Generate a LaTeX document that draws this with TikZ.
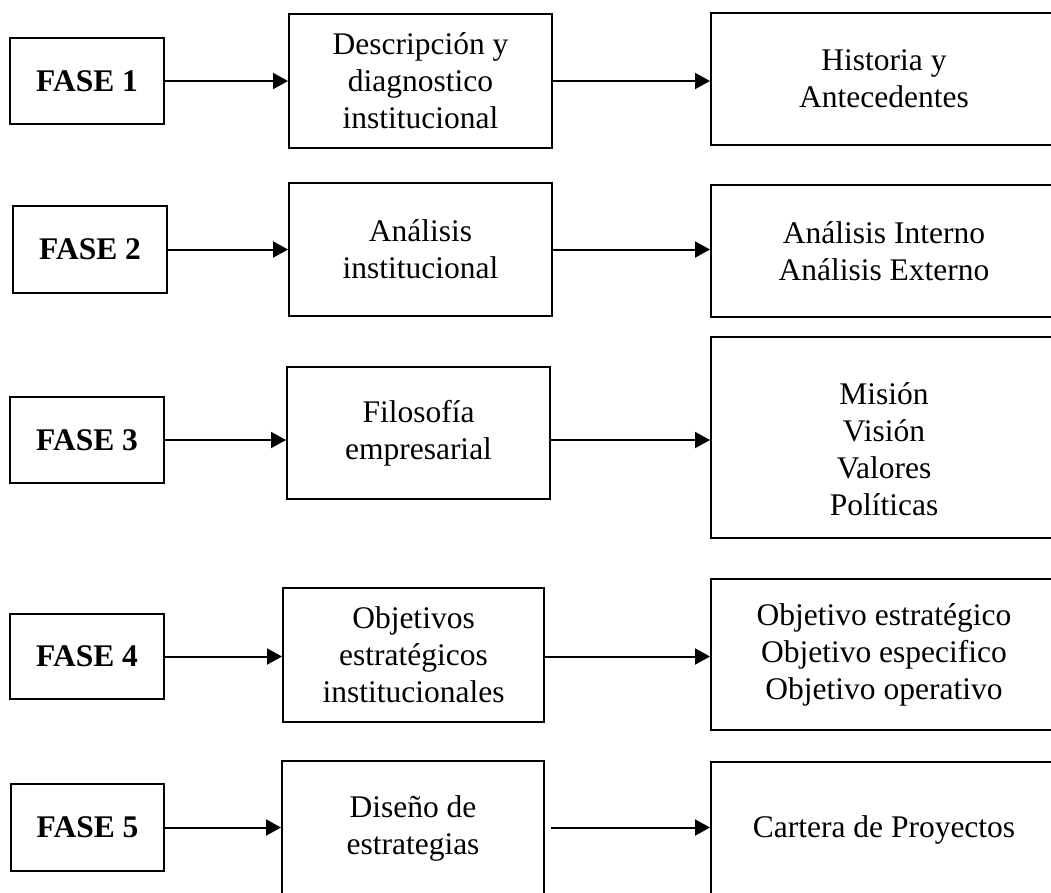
\documentclass[tikz,border=0pt]{standalone}
\usepackage{fontspec}
\setmainfont{Liberation Serif}
\usetikzlibrary{arrows.meta}
\tikzset{
  bx/.style={draw, line width=2pt, align=center, inner sep=0pt,
    font=\fontsize{31.5}{37}\selectfont},
  fase/.style={bx, font=\fontsize{31.5}{37}\selectfont\bfseries},
  arr/.style={line width=2pt, -{Triangle[length=15pt,width=16pt]}}
}
\begin{document}
\begin{tikzpicture}[x=1pt,y=1pt]
\useasboundingbox (0,0) rectangle (1051,-892);
\clip (0,0) rectangle (1051,-892);
\fill[white] (0,0) rectangle (1051,-892);
% Row 1
\node[fase, minimum width=154pt, minimum height=86pt] (F1) at (87,-81) {FASE 1};
\node[bx, minimum width=263pt, minimum height=134pt] (M1) at (420.5,-81) {Descripción y\\diagnostico\\institucional};
\node[bx, minimum width=346pt, minimum height=132pt] (R1) at (884,-79) {Historia y\\Antecedentes};
% Row 2
\node[fase, minimum width=154pt, minimum height=87pt] (F2) at (90,-249.5) {FASE 2};
\node[bx, minimum width=263pt, minimum height=133pt] (M2) at (420.5,-249.5) {Análisis\\institucional};
\node[bx, minimum width=346pt, minimum height=132pt] (R2) at (884,-251) {Análisis Interno\\Análisis Externo};
% Row 3
\node[fase, minimum width=154pt, minimum height=86pt] (F3) at (87,-440) {FASE 3};
\node[bx, minimum width=263pt, minimum height=132pt] (M3) at (418.5,-433) {Filosofía\\empresarial};
\node[bx, minimum width=346pt, minimum height=201pt] (R3) at (884,-437.5) {\rule{0pt}{46pt}Misión\\Visión\\Valores\\Políticas};
% Row 4
\node[fase, minimum width=154pt, minimum height=85pt] (F4) at (87,-656.5) {FASE 4};
\node[bx, minimum width=261pt, minimum height=134pt] (M4) at (413.5,-655) {Objetivos\\estratégicos\\institucionales};
\node[bx, minimum width=346pt, minimum height=151pt] (R4) at (884,-654.5) {Objetivo estratégico\\Objetivo especifico\\Objetivo operativo};
% Row 5
\node[fase, minimum width=153pt, minimum height=87pt] (F5) at (87.5,-827.5) {FASE 5};
\node[bx, minimum width=262pt, minimum height=134pt] (M5) at (413,-828) {Diseño de\\estrategias};
\node[bx, minimum width=346pt, minimum height=136pt] (R5) at (884,-830) {Cartera de Proyectos};
% Connectors
\foreach \k in {1,...,5}{
  \draw[arr] (F\k.east) -- (F\k.east -| M\k.west);
}
\foreach \k in {1,...,4}{
  \draw[arr] (M\k.east |- F\k.east) -- (R\k.west |- F\k.east);
}
\draw[arr, shorten <=6pt] (M5.east |- F5.east) -- (R5.west |- F5.east);
\end{tikzpicture}
\end{document}
